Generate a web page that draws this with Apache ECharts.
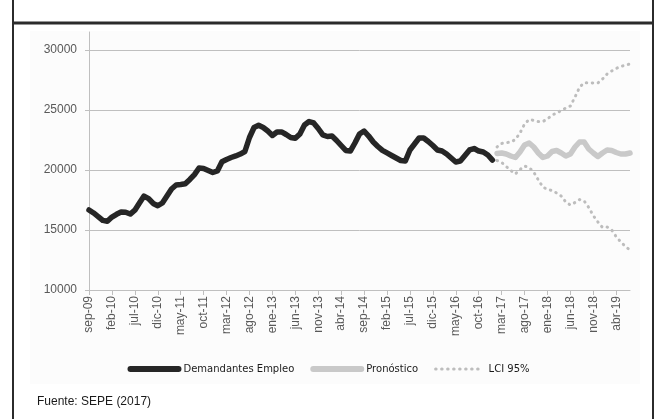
<!DOCTYPE html>
<html>
<head>
<meta charset="utf-8">
<script src="https://cdn.jsdelivr.net/npm/echarts@6/dist/echarts.min.js"></script>
<style>
html,body{margin:0;padding:0;background:#fff;}
#c{width:657px;height:419px;}
</style>
</head>
<body>
<div id="c"></div>
<script>
const categories = [
 'sep-09','oct-09','nov-09','dic-09',
 'ene-10','feb-10','mar-10','abr-10','may-10','jun-10','jul-10','ago-10','sep-10','oct-10','nov-10','dic-10',
 'ene-11','feb-11','mar-11','abr-11','may-11','jun-11','jul-11','ago-11','sep-11','oct-11','nov-11','dic-11',
 'ene-12','feb-12','mar-12','abr-12','may-12','jun-12','jul-12','ago-12','sep-12','oct-12','nov-12','dic-12',
 'ene-13','feb-13','mar-13','abr-13','may-13','jun-13','jul-13','ago-13','sep-13','oct-13','nov-13','dic-13',
 'ene-14','feb-14','mar-14','abr-14','may-14','jun-14','jul-14','ago-14','sep-14','oct-14','nov-14','dic-14',
 'ene-15','feb-15','mar-15','abr-15','may-15','jun-15','jul-15','ago-15','sep-15','oct-15','nov-15','dic-15',
 'ene-16','feb-16','mar-16','abr-16','may-16','jun-16','jul-16','ago-16','sep-16','oct-16','nov-16','dic-16',
 'ene-17','feb-17','mar-17','abr-17','may-17','jun-17','jul-17','ago-17','sep-17','oct-17','nov-17','dic-17',
 'ene-18','feb-18','mar-18','abr-18','may-18','jun-18','jul-18','ago-18','sep-18','oct-18','nov-18','dic-18',
 'ene-19','feb-19','mar-19','abr-19','may-19','jun-19','jul-19'
];

// Observed series: sep-09 .. ene-17
const demandantes = [
 16670,16420,16120,15800,15730,16080,16310,16500,16480,16330,
 16650,17250,17830,17620,17210,17020,17250,17830,18420,18750,
 18790,18850,19210,19620,20170,20130,19960,19790,19920,20690,
 20880,21040,21170,21330,21540,22710,23540,23720,23540,23250,
 22880,23170,23170,22960,22710,22640,23000,23750,24040,23920,
 23460,22920,22790,22830,22460,22040,21630,21580,22250,23000,
 23250,22830,22330,21960,21630,21420,21210,21000,20790,20750,
 21670,22170,22670,22670,22380,22040,21670,21580,21330,21000,
 20670,20750,21210,21670,21790,21580,21500,21250,20830
];

// Forecast: feb-17 .. jul-19
const pronostico = [
 21375,21417,21333,21167,21042,21500,22083,22250,21917,21417,
 21042,21167,21542,21625,21417,21167,21333,21917,22333,22333,
 21750,21417,21125,21417,21667,21625,21458,21333,21333,21417
];
const lciSuperior = [
 21920,22210,22280,22330,22540,23080,23830,24210,24130,24040,
 24040,24250,24580,24750,24960,25170,25330,26080,26890,27280,
 27280,27250,27250,27580,28000,28250,28470,28620,28750,28830
];
const lciInferior = [
 20790,20625,20290,19960,19670,20040,20330,20210,19830,19170,
 18580,18380,18290,18080,17830,17330,17080,17290,17540,17420,
 16880,16190,15670,15210,15250,15000,14440,14000,13630,13330
];

const yTicks = [10000, 15000, 20000, 25000, 30000];

const nObs = demandantes.length;
const pad = (arr, before) => new Array(before).fill(null).concat(arr);
const fcStart = nObs;

const chart = echarts.init(document.getElementById('c'), null, {renderer: 'canvas'});
const axisGray = '#bfbfbf';
const txtGray = '#595959';
const font = 'Liberation Sans';
const cBlack = '#262626', cGray = '#c9c9c9', cDot = '#bdbdbd';
const dotStyle = {color: cDot, width: 3, type: [0.5, 5.5], cap: 'round'};

chart.setOption({
  animation: false,
  backgroundColor: '#ffffff',
  graphic: [
    {type: 'rect', z: -10, shape: {x: 30, y: 31, width: 610, height: 353}, style: {fill: '#fcfcfc'}},
    {type: 'line', shape: {x1: 12, y1: 23, x2: 654, y2: 23}, style: {stroke: '#2b2b2b', lineWidth: 3}},
    {type: 'line', shape: {x1: 13, y1: 0, x2: 13, y2: 419}, style: {stroke: '#2b2b2b', lineWidth: 2}},
    {type: 'line', shape: {x1: 653, y1: 0, x2: 653, y2: 419}, style: {stroke: '#2b2b2b', lineWidth: 2}},
    {type: 'text', left: 37, top: 396, style: {text: 'Fuente: SEPE (2017)', fill: '#1a1a1a', font: '12px "Liberation Sans"'}}
  ],
  grid: {left: 89, right: 27, top: 32, bottom: 129, containLabel: false},
  legend: {
    data: [
      {name: 'Demandantes Empleo', itemStyle: {opacity: 0}, lineStyle: {color: cBlack, width: 6, cap: 'round'}},
      {name: 'Pronóstico', itemStyle: {opacity: 0}, lineStyle: {color: cGray, width: 6, cap: 'round'}},
      {name: 'LCI 95%', itemStyle: {opacity: 0}, lineStyle: dotStyle}
    ],
    left: 'center', top: 359,
    itemWidth: 48, itemHeight: 10, itemGap: 16,
    textStyle: {fontFamily: 'DejaVu Sans', fontSize: 10, color: '#1a1a1a'}
  },
  xAxis: {
    type: 'category',
    data: categories,
    boundaryGap: false,
    axisLine: {lineStyle: {color: axisGray, width: 1}},
    axisTick: {show: true, interval: 4, length: 5, lineStyle: {color: axisGray}},
    axisLabel: {interval: 4, rotate: 90, color: txtGray, fontFamily: font, fontSize: 12, margin: 6},
    splitLine: {show: false}
  },
  yAxis: {
    type: 'value',
    min: yTicks[0], max: 31500, interval: 5000,
    axisLine: {show: true, lineStyle: {color: axisGray, width: 1}},
    axisTick: {show: true, length: 4, lineStyle: {color: axisGray}},
    axisLabel: {color: txtGray, fontFamily: font, fontSize: 12, margin: 12, showMaxLabel: false,
      formatter: v => String(v)},
    splitLine: {show: true, showMaxLine: false, lineStyle: {color: axisGray, width: 1}}
  },
  series: [
    {
      name: 'LCI 95%', type: 'line', data: pad(lciSuperior, fcStart), symbol: 'none', z: 2,
      color: cDot, lineStyle: dotStyle
    },
    {
      name: 'LCI 95%', type: 'line', data: pad(lciInferior, fcStart), symbol: 'none', z: 2,
      color: cDot, lineStyle: dotStyle
    },
    {
      name: 'Pronóstico', type: 'line', data: pad(pronostico, fcStart), symbol: 'none', z: 3,
      color: cGray, lineStyle: {color: cGray, width: 5.5, cap: 'round', join: 'round'}
    },
    {
      name: 'Demandantes Empleo', type: 'line', data: demandantes, symbol: 'none', z: 4,
      color: cBlack, lineStyle: {color: cBlack, width: 5.5, cap: 'round', join: 'round'}
    }
  ]
});
</script>
</body>
</html>
